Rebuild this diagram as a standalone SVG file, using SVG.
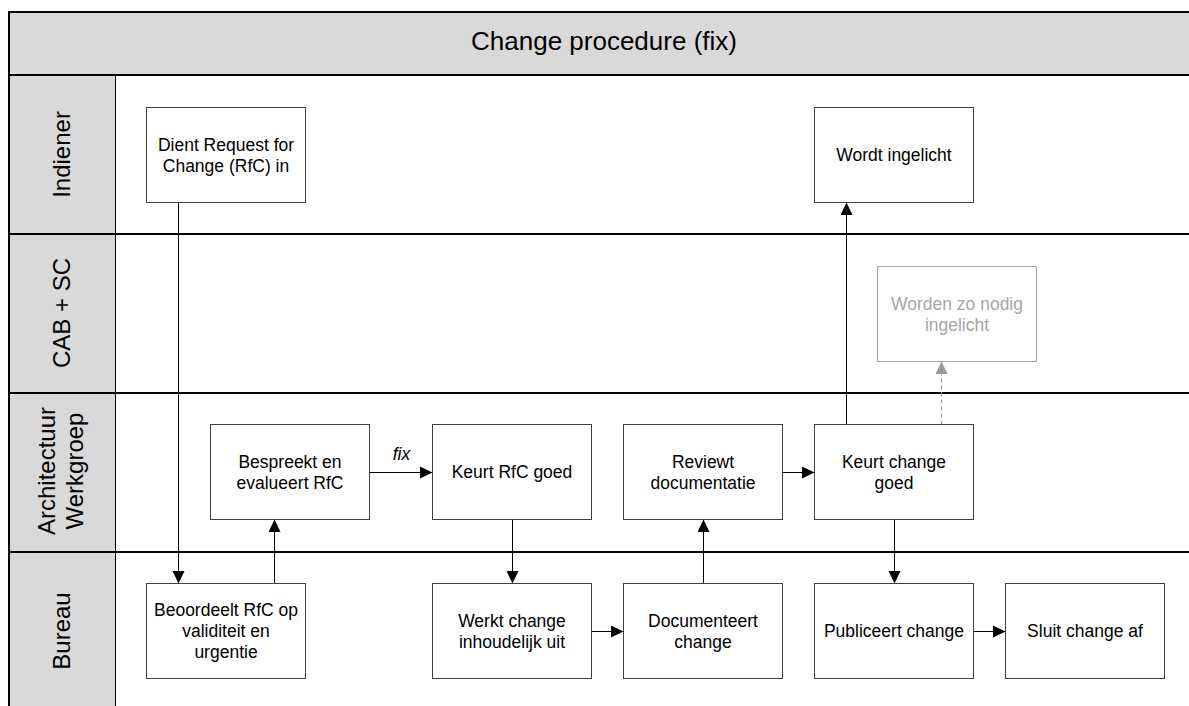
<svg xmlns="http://www.w3.org/2000/svg" width="1189" height="706" viewBox="0 0 1189 706">
  <defs>
    <style>
      .box { fill: #ffffff; stroke: #404040; stroke-width: 1; }
      .ghost { fill: #ffffff; stroke: #a6a6a6; stroke-width: 1; }
      .t { font-family: "Liberation Sans", Arial, sans-serif; font-size: 17.5px; fill: #000000; text-anchor: middle; }
      .tg { font-family: "Liberation Sans", Arial, sans-serif; font-size: 17.5px; fill: #a6a6a6; text-anchor: middle; }
      .lane { font-family: "Liberation Sans", Arial, sans-serif; font-size: 24px; fill: #000000; text-anchor: middle; }
      .conn { fill: none; stroke: #000000; stroke-width: 1; marker-end: url(#arr); }
      .dash { fill: none; stroke: #999999; stroke-width: 1; stroke-dasharray: 4 3; marker-end: url(#arrg); }
      .sep { stroke: #000000; stroke-width: 2; }
    </style>
    <marker id="arr" markerUnits="userSpaceOnUse" markerWidth="13" markerHeight="13" refX="12.5" refY="6" orient="auto">
      <path d="M0,0 L12.5,6 L0,12 Z" fill="#000000"/>
    </marker>
    <marker id="arrg" markerUnits="userSpaceOnUse" markerWidth="13" markerHeight="13" refX="12.5" refY="6" orient="auto">
      <path d="M0,0 L12.5,6 L0,12 Z" fill="#999999"/>
    </marker>
  </defs>

  <rect x="0" y="0" width="1189" height="706" fill="#ffffff"/>

  <g id="pool">
    <rect x="9" y="12" width="1190" height="63" fill="#d9d9d9"/>
    <rect x="9" y="75" width="106" height="640" fill="#d9d9d9"/>
    <line x1="115.5" y1="75" x2="115.5" y2="706" stroke="#000000" stroke-width="1"/>
    <line class="sep" x1="8" y1="12" x2="1189" y2="12"/>
    <line class="sep" x1="8" y1="75" x2="1189" y2="75"/>
    <line class="sep" x1="8" y1="234" x2="1189" y2="234"/>
    <line class="sep" x1="8" y1="393" x2="1189" y2="393"/>
    <line class="sep" x1="8" y1="552" x2="1189" y2="552"/>
    <line class="sep" x1="9" y1="11" x2="9" y2="706"/>
    <text x="604" y="50" font-family="&quot;Liberation Sans&quot;, Arial, sans-serif" font-size="26" text-anchor="middle">Change procedure (fix)</text>
  </g>

  <g id="lane-indiener"><text class="lane" transform="translate(70,154.5) rotate(-90)">Indiener</text></g>
  <g id="lane-cab"><text class="lane" transform="translate(70,313) rotate(-90)">CAB + SC</text></g>
  <g id="lane-arch">
    <text class="lane" transform="translate(55,471) rotate(-90)">Architectuur</text>
    <text class="lane" transform="translate(82.5,471) rotate(-90)">Werkgroep</text>
  </g>
  <g id="lane-bureau"><text class="lane" transform="translate(70,631) rotate(-90)">Bureau</text></g>

  <g id="connectors">
    <line class="conn" x1="178.5" y1="202.5" x2="178.5" y2="583.5"/>
    <line class="conn" x1="274.5" y1="583.5" x2="274.5" y2="519.5"/>
    <line class="conn" x1="369.5" y1="472.5" x2="432.5" y2="472.5"/>
    <text x="401.5" y="460" font-family="&quot;Liberation Sans&quot;, Arial, sans-serif" font-size="17.5" font-style="italic" text-anchor="middle">fix</text>
    <line class="conn" x1="512.5" y1="519.5" x2="512.5" y2="583.5"/>
    <line class="conn" x1="591.5" y1="631.5" x2="623.5" y2="631.5"/>
    <line class="conn" x1="703.5" y1="583.5" x2="703.5" y2="519.5"/>
    <line class="conn" x1="782.5" y1="472.5" x2="814.5" y2="472.5"/>
    <line class="conn" x1="846.5" y1="424.5" x2="846.5" y2="202.5"/>
    <line class="dash" x1="941.5" y1="424.5" x2="941.5" y2="361.5"/>
    <line class="conn" x1="894.5" y1="519.5" x2="894.5" y2="583.5"/>
    <line class="conn" x1="973.5" y1="631.5" x2="1005.5" y2="631.5"/>
  </g>

  <g id="n-dient">
    <rect class="box" x="146.5" y="107.5" width="159" height="95"/>
    <text class="t" x="226" y="150.5">Dient Request for</text>
    <text class="t" x="226" y="171.5">Change (RfC) in</text>
  </g>
  <g id="n-wordt">
    <rect class="box" x="814.5" y="107.5" width="159" height="95"/>
    <text class="t" x="894" y="161">Wordt ingelicht</text>
  </g>
  <g id="n-worden">
    <rect class="ghost" x="877.5" y="266.5" width="159" height="95"/>
    <text class="tg" x="957" y="309.5">Worden zo nodig</text>
    <text class="tg" x="957" y="330.5">ingelicht</text>
  </g>
  <g id="n-bespreekt">
    <rect class="box" x="210.5" y="424.5" width="159" height="95"/>
    <text class="t" x="290" y="467.5">Bespreekt en</text>
    <text class="t" x="290" y="488.5">evalueert RfC</text>
  </g>
  <g id="n-keurt-rfc">
    <rect class="box" x="432.5" y="424.5" width="159" height="95"/>
    <text class="t" x="512" y="478">Keurt RfC goed</text>
  </g>
  <g id="n-reviewt">
    <rect class="box" x="623.5" y="424.5" width="159" height="95"/>
    <text class="t" x="703" y="467.5">Reviewt</text>
    <text class="t" x="703" y="488.5">documentatie</text>
  </g>
  <g id="n-keurt-change">
    <rect class="box" x="814.5" y="424.5" width="159" height="95"/>
    <text class="t" x="894" y="467.5">Keurt change</text>
    <text class="t" x="894" y="488.5">goed</text>
  </g>
  <g id="n-beoordeelt">
    <rect class="box" x="146.5" y="583.5" width="159" height="95"/>
    <text class="t" x="226" y="616">Beoordeelt RfC op</text>
    <text class="t" x="226" y="637">validiteit en</text>
    <text class="t" x="226" y="658">urgentie</text>
  </g>
  <g id="n-werkt">
    <rect class="box" x="432.5" y="583.5" width="159" height="95"/>
    <text class="t" x="512" y="626.5">Werkt change</text>
    <text class="t" x="512" y="647.5">inhoudelijk uit</text>
  </g>
  <g id="n-documenteert">
    <rect class="box" x="623.5" y="583.5" width="159" height="95"/>
    <text class="t" x="703" y="626.5">Documenteert</text>
    <text class="t" x="703" y="647.5">change</text>
  </g>
  <g id="n-publiceert">
    <rect class="box" x="814.5" y="583.5" width="159" height="95"/>
    <text class="t" x="894" y="637">Publiceert change</text>
  </g>
  <g id="n-sluit">
    <rect class="box" x="1005.5" y="583.5" width="159" height="95"/>
    <text class="t" x="1085" y="637">Sluit change af</text>
  </g>
</svg>
